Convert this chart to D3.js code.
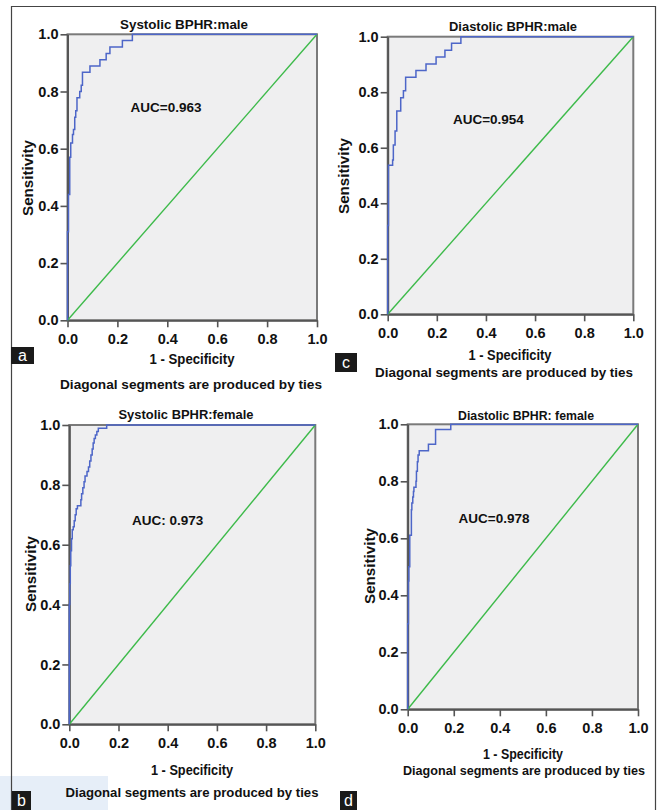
<!DOCTYPE html>
<html>
<head>
<meta charset="utf-8">
<script src="https://cdn.jsdelivr.net/npm/d3@7"></script>
<style>
  body { margin: 0; background: #fff; }
  svg text { font-family: "Liberation Sans", Arial, sans-serif; font-weight: bold; fill: #111; }
</style>
</head>
<body>
<div class="chart"></div>
<script>

const FRAME_WIDTH = 657;
const FRAME_HEIGHT = 810;

// axis ticks
const TICK_VALUES = [0, 0.2, 0.4, 0.6, 0.8, 1.0];
const TICK_LABELS = ["0.0", "0.2", "0.4", "0.6", "0.8", "1.0"];

// ROC curves (1 - specificity, sensitivity)
const systolicMaleFPR = [0, 0, 0.004, 0.009, 0.013, 0.02, 0.024, 0.029, 0.033, 0.038, 0.049, 0.055, 0.06, 0.09, 0.13, 0.155, 0.17, 0.22, 0.26, 1];
const systolicMaleTPR = [0, 0.31, 0.44, 0.57, 0.62, 0.65, 0.667, 0.71, 0.733, 0.778, 0.80, 0.822, 0.867, 0.889, 0.911, 0.933, 0.956, 0.978, 1, 1];

const diastolicMaleFPR = [0, 0, 0.003, 0.02, 0.023, 0.03, 0.037, 0.053, 0.064, 0.073, 0.115, 0.156, 0.197, 0.233, 0.26, 0.298, 1];
const diastolicMaleTPR = [0, 0.32, 0.537, 0.556, 0.61, 0.66, 0.732, 0.78, 0.805, 0.854, 0.878, 0.902, 0.927, 0.951, 0.976, 1, 1];

const systolicFemaleFPR = [0, 0, 0.002, 0.004, 0.006, 0.009, 0.012, 0.016, 0.02, 0.024, 0.028, 0.033, 0.047, 0.05, 0.055, 0.06, 0.064, 0.072, 0.078, 0.083, 0.088, 0.093, 0.097, 0.101, 0.106, 0.112, 0.118, 0.152, 1];
const systolicFemaleTPR = [0, 0.40, 0.47, 0.53, 0.58, 0.62, 0.65, 0.66, 0.68, 0.70, 0.72, 0.73, 0.75, 0.77, 0.79, 0.81, 0.83, 0.845, 0.86, 0.88, 0.90, 0.92, 0.94, 0.955, 0.967, 0.978, 0.989, 1, 1];

const diastolicFemaleFPR = [0, 0, 0.003, 0.005, 0.009, 0.016, 0.018, 0.022, 0.025, 0.027, 0.036, 0.038, 0.042, 0.045, 0.05, 0.09, 0.121, 0.187, 1];
const diastolicFemaleTPR = [0, 0.3, 0.45, 0.5, 0.611, 0.70, 0.724, 0.745, 0.764, 0.779, 0.80, 0.835, 0.869, 0.892, 0.907, 0.93, 0.982, 1, 1];

// reference line
const DIAGONAL = [0, 1];

// panel titles, AUC labels, letters
const TITLES = ["Systolic BPHR:male", "Diastolic BPHR:male", "Systolic BPHR:female", "Diastolic BPHR: female"];
const AUC_LABELS = ["AUC=0.963", "AUC=0.954", "AUC: 0.973", "AUC=0.978"];
const LETTERS = ["a", "c", "b", "d"];

const PANELS = [
    {fpr: systolicMaleFPR, tpr: systolicMaleTPR,
     box: {left: 67.5, right: 317, top: 34.3, bottom: 320.3},
     title: [184, 29, 128], auc: [0.395, 0.727], ylab: [28, 178],
     xlab: [192, 364, 85], diag: [191, 389, 262], letter: [11, 347, 23, 17]},
    {fpr: diastolicMaleFPR, tpr: diastolicMaleTPR,
     box: {left: 387.7, right: 633.3, top: 36.7, bottom: 314.3},
     title: [513, 31, 128], auc: [0.41, 0.686], ylab: [344, 176],
     xlab: [510, 360, 83], diag: [504, 377, 258], letter: [335, 353, 22, 19]},
    {fpr: systolicFemaleFPR, tpr: systolicFemaleTPR,
     box: {left: 69.3, right: 315.3, top: 425, bottom: 724.3},
     title: [186, 419, 135], auc: [0.40, 0.666], ylab: [31, 574],
     xlab: [192, 775, 82], diag: [192, 797, 253], letter: [12, 791, 19, 19]},
    {fpr: diastolicFemaleFPR, tpr: diastolicFemaleTPR,
     box: {left: 407.7, right: 638, top: 424.3, bottom: 709.3},
     title: [526, 420, 136], auc: [0.375, 0.654], ylab: [370, 566],
     xlab: [523, 759, 80], diag: [524, 775, 242], letter: [340, 791, 17, 19]}
];

const SVG = d3.select(".chart")
    .append("svg")
    .attr("width", FRAME_WIDTH)
    .attr("height", FRAME_HEIGHT);

// light blue patch at lower left and outer frame
SVG.append("rect")
    .attr("x", 0).attr("y", 776)
    .attr("width", 108).attr("height", 40)
    .attr("fill", "#e6eef8");

SVG.append("path")
    .attr("d", "M11.5,815 V6.5 H655.5 V815")
    .attr("fill", "none")
    .attr("stroke", "#444")
    .attr("stroke-width", 1.2);

PANELS.forEach((p, i) => {

    const X_SCALE = d3.scaleLinear().domain([0, 1]).range([p.box.left, p.box.right]);
    const Y_SCALE = d3.scaleLinear().domain([0, 1]).range([p.box.bottom, p.box.top]);

    const g = SVG.append("g");

    // plot background
    g.append("rect")
        .attr("x", X_SCALE(0))
        .attr("y", Y_SCALE(1))
        .attr("width", X_SCALE(1) - X_SCALE(0))
        .attr("height", Y_SCALE(0) - Y_SCALE(1))
        .attr("fill", "#efeff0")
        .attr("stroke", "#7a7a7a")
        .attr("stroke-width", 2);

    // axes
    const xAxis = g.append("g")
        .attr("transform", "translate(0," + Y_SCALE(0) + ")")
        .call(d3.axisBottom(X_SCALE).tickValues(TICK_VALUES)
              .tickFormat((d, k) => TICK_LABELS[k]).tickSize(7).tickSizeOuter(0));

    const yAxis = g.append("g")
        .attr("transform", "translate(" + X_SCALE(0) + ",0)")
        .call(d3.axisLeft(Y_SCALE).tickValues(TICK_VALUES)
              .tickFormat((d, k) => TICK_LABELS[k]).tickSize(7).tickSizeOuter(0));

    [xAxis, yAxis].forEach((ax) => {
        ax.select(".domain").attr("stroke", "#555").attr("stroke-width", 2);
        ax.selectAll(".tick line").attr("stroke", "#555").attr("stroke-width", 1.6);
        ax.selectAll(".tick text")
            .attr("font-size", "14.5px")
            .attr("font-family", "Liberation Sans, Arial, sans-serif")
            .attr("font-weight", "bold")
            .attr("fill", "#111");
    });
    xAxis.selectAll(".tick text").attr("dy", "0.95em");
    yAxis.selectAll(".tick text").attr("x", -9);

    // diagonal
    g.append("path")
        .datum(DIAGONAL)
        .attr("d", d3.line().x((d) => X_SCALE(d)).y((d) => Y_SCALE(d)))
        .attr("fill", "none")
        .attr("stroke", "#3dba4a")
        .attr("stroke-width", 1.4);

    // ROC curve
    const pts = p.fpr.map((f, k) => [f, p.tpr[k]]);
    g.append("path")
        .datum(pts)
        .attr("d", d3.line()
                .x((d) => X_SCALE(d[0]))
                .y((d) => Y_SCALE(d[1]))
                .curve(d3.curveStepAfter))
        .attr("fill", "none")
        .attr("stroke", "#4d66c8")
        .attr("stroke-width", 1.5);

    // texts
    g.append("text")
        .attr("x", p.title[0]).attr("y", p.title[1])
        .attr("text-anchor", "middle")
        .attr("font-size", "13px")
        .attr("textLength", p.title[2])
        .attr("lengthAdjust", "spacingAndGlyphs")
        .text(TITLES[i]);

    g.append("text")
        .attr("x", X_SCALE(p.auc[0])).attr("y", Y_SCALE(p.auc[1]))
        .attr("text-anchor", "middle")
        .attr("font-size", "13.5px")
        .text(AUC_LABELS[i]);

    g.append("text")
        .attr("transform", "translate(" + p.ylab[0] + "," + p.ylab[1] + ") rotate(-90)")
        .attr("text-anchor", "middle")
        .attr("dy", "0.35em")
        .attr("font-size", "14px")
        .attr("textLength", 76)
        .attr("lengthAdjust", "spacingAndGlyphs")
        .text("Sensitivity");

    g.append("text")
        .attr("x", p.xlab[0]).attr("y", p.xlab[1])
        .attr("text-anchor", "middle")
        .attr("font-size", "14px")
        .attr("textLength", p.xlab[2])
        .attr("lengthAdjust", "spacingAndGlyphs")
        .text("1 - Specificity");

    g.append("text")
        .attr("x", p.diag[0]).attr("y", p.diag[1])
        .attr("text-anchor", "middle")
        .attr("font-size", "13.5px")
        .attr("textLength", p.diag[2])
        .attr("lengthAdjust", "spacingAndGlyphs")
        .text("Diagonal segments are produced by ties");

    // panel letter
    const L = p.letter;
    g.append("rect")
        .attr("x", L[0]).attr("y", L[1])
        .attr("width", L[2]).attr("height", L[3])
        .attr("fill", "#1a1a1a");
    g.append("text")
        .attr("x", L[0] + L[2] / 2).attr("y", L[1] + L[3] / 2)
        .attr("dy", "0.34em")
        .attr("text-anchor", "middle")
        .attr("font-size", "16px")
        .style("fill", "#fff")
        .style("font-weight", "normal")
        .text(LETTERS[i]);
});

</script>
</body>
</html>
